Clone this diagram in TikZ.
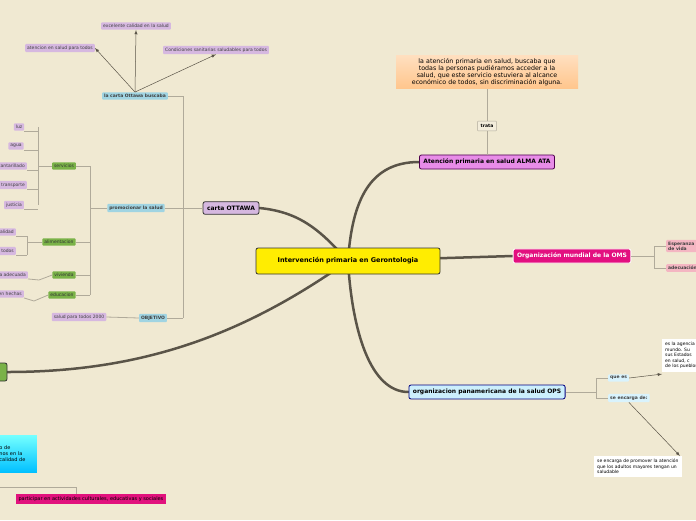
\documentclass[tikz,border=0pt]{standalone}
\usepackage{fontspec}
\setmainfont{DejaVu Sans}
\usetikzlibrary{positioning,backgrounds}
\definecolor{paper}{RGB}{240,233,210}
\definecolor{lila}{RGB}{214,184,224}
\definecolor{celeste}{RGB}{160,212,226}
\definecolor{verde}{RGB}{122,178,72}
\definecolor{rama}{RGB}{90,84,72}
\definecolor{gris}{RGB}{176,170,154}
\tikzset{
  leaf/.style={rectangle,fill=lila,rounded corners=1pt,font=\fontsize{4.5}{5}\selectfont,inner sep=2pt,text=black!75},
  sub/.style={rectangle,fill=celeste,rounded corners=1pt,font=\bfseries\fontsize{4.5}{5}\selectfont,inner sep=2pt,text=black!75},
  grn/.style={rectangle,fill=verde,rounded corners=1pt,font=\fontsize{4.5}{5}\selectfont,inner sep=2pt,text=black!80},
  main/.style={rectangle,draw=black!80,rounded corners=2pt,font=\bfseries\fontsize{6}{7}\selectfont,inner sep=4pt,line width=0.8pt},
  note/.style={rectangle,fill=white,font=\fontsize{4.5}{5.5}\selectfont,align=left,inner sep=3pt},
  thin/.style={draw=gris,line width=0.8pt},
  thick/.style={draw=rama,line width=2.5pt,line cap=round}
}
\begin{document}
\begin{tikzpicture}[x=1pt,y=-1pt]
\useasboundingbox (0,0) rectangle (696,520);
% central
\node[main,fill=yellow!95!orange,minimum width=184,minimum height=26,font=\bfseries\fontsize{6.5}{7}\selectfont] (c) at (348,261) {Intervención primaria en Gerontologia};
\node[main,fill=lila] (ott) at (231,208) {carta OTTAWA};
\node[main,fill=violet!40!magenta!45,draw=violet!60!black] (alma) at (487,162) {Atención primaria en salud ALMA ATA};
\node[rectangle,fill=paper!80!white,draw=gris,rounded corners=1pt,font=\bfseries\fontsize{4.5}{5}\selectfont] (trata) at (487,126) {trata};
\node[rectangle,top color=orange!25,bottom color=orange!45,text width=176,align=center,font=\fontsize{6.3}{7}\selectfont,inner sep=3pt] (def) at (487,72) {la atención primaria en salud, buscaba que todas la personas pudiéramos acceder a la salud, que este servicio estuviera al alcance económico de todos, sin discriminación alguna.};
\node[main,fill=magenta!80!purple,text=white,draw=white] (oms) at (572,256) {Organización mundial de la OMS};
\node[leaf,fill=pink!70!purple!60,anchor=west,align=left,font=\bfseries\fontsize{4.5}{5}\selectfont] (esp) at (666,246) {Esperanza\\de vida};
\node[leaf,fill=pink!70!purple!60,anchor=west,font=\bfseries\fontsize{4.5}{5}\selectfont] (adec) at (666,268) {adecuación};
\node[main,fill=cyan!20,draw=blue!50!black] (ops) at (487,392) {organizacion panamericana de la salud OPS};
\node[sub,fill=cyan!15,anchor=west] (quees) at (608,378) {que es};
\node[sub,fill=cyan!15,anchor=west] (encarga) at (608,398) {se encarga de:};
\node[note,anchor=north west] (ag) at (662,339) {es la agencia\\mundo. Su\\sus Estados\\en salud, c\\de los pueblos};
\node[note,anchor=north west] (prom) at (594,456) {se encarga de promover  la atención\\que los adultos mayores tengan un\\saludable};
% left parts
\node[main,fill=verde,minimum width=30,minimum height=18] (gl) at (-8,372) {};
\node[rectangle,top color=cyan!55,bottom color=cyan!75!blue,anchor=east,minimum height=37,text width=70,align=left,font=\fontsize{5}{6}\selectfont] (blu) at (37,454) {\hspace*{36pt}o de\\\hspace*{36pt}nos en la\\\hspace*{36pt}calidad de\\ };
\node[rectangle,fill=magenta!75!purple,anchor=east,font=\fontsize{5}{5}\selectfont,inner sep=2.5pt] (part) at (166,499) {participar en actividades culturales, educativas y sociales};
% ottawa tree
\node[sub] (busca) at (135,96) {la carta Ottawa buscaba};
\node[leaf] (exc) at (136,26) {excelente calidad en la salud};
\node[leaf] (aten) at (60,48) {atencion en salud para todos};
\node[leaf] (cond) at (216,50) {Condiciones sanitarias saludables para todos};
\node[sub] (prom2) at (136,208) {promocionar la salud};
\node[grn] (serv) at (64,166) {servicios};
\node[leaf] (luz) at (19,127) {luz};
\node[leaf] (agua) at (16,146) {agua};
\node[leaf,anchor=east] (alc) at (27,166) {alcantarillado};
\node[leaf,anchor=east] (tra) at (27,185) {transporte};
\node[leaf] (jus) at (14,205) {justicia};
\node[grn] (ali) at (59,242) {alimentacion};
\node[leaf,anchor=east] (cal) at (16,232) {calidad};
\node[leaf,anchor=east] (tod) at (16,251) {para todos};
\node[grn] (viv) at (64,275) {vivienda};
\node[leaf,anchor=east] (vad) at (28,275) {vivienda adecuada};
\node[grn] (edu) at (62,295) {educacion};
\node[leaf,anchor=east] (hec) at (24,294) {bien hechas};
\node[sub] (obj) at (153,318) {OBJETIVO};
\node[leaf] (s2000) at (79,317) {salud para todos 2000};
% thick branches
\begin{pgfonlayer}{background}
\fill[paper] (0,0) rectangle (696,520);
\draw[thick] (c.center) .. controls (320,230) and (300,212) .. (ott.east);
\draw[thick] (c.center) .. controls (352,200) and (370,162) .. (alma.west);
\draw[thick] (c.center) -- (oms.west);
\draw[thick] (c.center) .. controls (352,330) and (370,392) .. (ops.west);
\draw[thick] (c.center) .. controls (250,330) and (150,372) .. (gl.east);
\end{pgfonlayer}
% thin links
\draw[thin] (alma.north) -- (trata.south);
\draw[thin] (trata.north) -- (def.south);
\draw[thin] (oms.east) -- (654,256) |- (esp.west);
\draw[thin] (654,256) |- (adec.west);
\draw[thin] (ops.east) -- (596,392) |- (quees.west);
\draw[thin] (596,392) |- (encarga.west);
\draw[-latex,draw=rama,line width=0.5pt] (quees.east) -- (ag.west|-quees.north);
\draw[-latex,draw=rama,line width=0.5pt] (encarga.south) -- (prom.north-|680,0);
\draw[thin] (ott.west) -- (183,208);
\draw[thin] (183,96) -- (183,318);
\draw[thin] (busca.east) -- (183,96);
\draw[thin] (prom2.east) -- (183,208);
\draw[thin] (obj.east) -- (183,318);
\draw[-latex,draw=rama,line width=0.5pt] (busca.north) -- (aten.east);
\draw[-latex,draw=rama,line width=0.5pt] (busca.north) -- (exc.south);
\draw[-latex,draw=rama,line width=0.5pt] (busca.north) -- (cond.south);
\draw[thin] (prom2.west) -- (90,208);
\draw[thin] (90,166) -- (90,295);
\foreach \n in {serv,ali,viv,edu} \draw[thin] (\n.east) -- (90,0|-\n.east);
\draw[thin] (serv.west) -- (38,166);
\draw[thin] (38,127) -- (38,205);
\foreach \n in {luz,agua,alc,tra,jus} \draw[thin] (\n.east|-\n.south) -- (38,0|-\n.south);
\draw[thin] (ali.west) -- (27,242);
\draw[thin] (27,236) -- (27,255);
\foreach \n in {cal,tod} \draw[thin] (\n.south east) -- (27,0|-\n.south);
\draw[thin] (viv.west) -- (39,280) -- (vad.south east);
\draw[thin] (edu.west) -- (34,301) -- (hec.south east);
\draw[thin] (obj.west) -- (s2000.east);
\draw[thin] (0,487) -- (76,487) -- (76,494);
\end{tikzpicture}
\end{document}
